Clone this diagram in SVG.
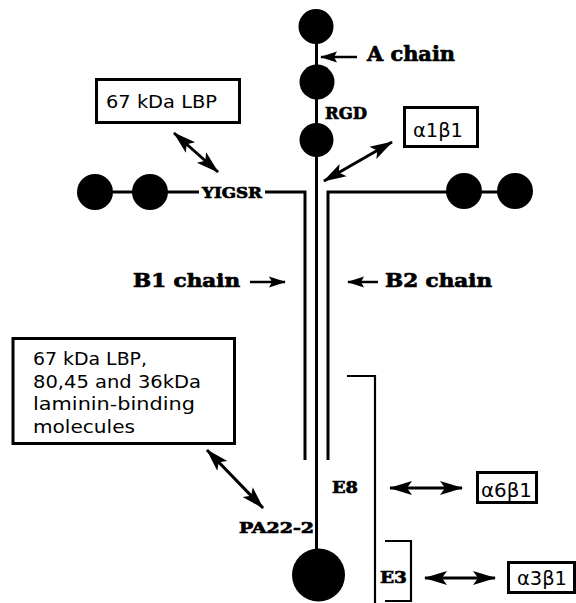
<svg xmlns="http://www.w3.org/2000/svg" width="576" height="603" viewBox="0 0 576 603">
  <style>
    .bg { fill: #ffffff; }
    .chain { stroke: #000; stroke-width: 3; fill: none; }
    .bracket { stroke: #000; stroke-width: 2.2; fill: none; }
    .dom { fill: #000; }
    .box { fill: #fff; stroke: #000; stroke-width: 3; }
    .lbl { font-family: "DejaVu Serif", "Liberation Serif", serif; font-weight: bold; fill: #000; stroke: #000; stroke-width: 0.7; }
    .rec { font-family: "DejaVu Sans", "Liberation Sans", sans-serif; fill: #000; }
    .dbl { stroke: #000; stroke-width: 3; fill: none; marker-start: url(#headD); marker-end: url(#headD); }
    .ptr { stroke: #000; stroke-width: 2.5; fill: none; marker-end: url(#headS); }
  </style>
  <defs>
    <marker id="headD" viewBox="-24 -9 26 18" markerWidth="26" markerHeight="18" refX="0" refY="0" markerUnits="userSpaceOnUse" orient="auto-start-reverse">
      <path d="M1,0 L-22,-7 L-17,0 L-22,7 Z" fill="#000"/>
    </marker>
    <marker id="headS" viewBox="-18 -7 20 14" markerWidth="20" markerHeight="14" refX="0" refY="0" markerUnits="userSpaceOnUse" orient="auto">
      <path d="M1,0 L-16,-5.5 L-13,0 L-16,5.5 Z" fill="#000"/>
    </marker>
  </defs>
  <rect class="bg" width="576" height="603"/>

  <!-- laminin chains (backbone lines) -->
  <g id="chains">
    <line class="chain" x1="316.5" y1="26" x2="316.5" y2="550"/>
    <path class="chain" d="M95,192 H305 V460"/>
    <path class="chain" d="M328,460 V192 H515"/>
  </g>

  <!-- globular domains -->
  <g id="A-chain-domains">
    <circle class="dom" cx="316" cy="26.5" r="17.5"/>
    <circle class="dom" cx="317" cy="82" r="17.5"/>
    <circle class="dom" cx="316.5" cy="140" r="17"/>
    <circle class="dom" cx="318.5" cy="575" r="26.5"/>
  </g>
  <g id="B1-chain-domains">
    <circle class="dom" cx="95" cy="192" r="18"/>
    <circle class="dom" cx="150" cy="192" r="18"/>
  </g>
  <g id="B2-chain-domains">
    <circle class="dom" cx="464" cy="191" r="18"/>
    <circle class="dom" cx="515" cy="191" r="18"/>
  </g>

  <!-- sequence / fragment labels -->
  <g id="YIGSR">
    <rect x="199" y="184" width="66" height="17" fill="#fff"/>
    <text class="lbl" x="202" y="198" font-size="15" textLength="60" lengthAdjust="spacingAndGlyphs">YIGSR</text>
  </g>
  <g id="RGD">
    <text class="lbl" x="325" y="119" font-size="17" textLength="42" lengthAdjust="spacingAndGlyphs">RGD</text>
  </g>
  <g id="A-chain">
    <text class="lbl" x="367" y="61" font-size="21" textLength="88" lengthAdjust="spacingAndGlyphs">A chain</text>
  </g>
  <g id="B1-chain">
    <text class="lbl" x="133" y="287" font-size="18" textLength="107" lengthAdjust="spacingAndGlyphs">B1 chain</text>
  </g>
  <g id="B2-chain">
    <text class="lbl" x="385" y="287" font-size="18" textLength="107" lengthAdjust="spacingAndGlyphs">B2 chain</text>
  </g>
  <g id="PA22-2">
    <text class="lbl" x="239" y="533" font-size="15" textLength="75" lengthAdjust="spacingAndGlyphs">PA22-2</text>
  </g>
  <g id="E8">
    <path class="bracket" d="M347,376 H375 V603"/>
    <text class="lbl" x="332" y="493" font-size="17" textLength="26" lengthAdjust="spacingAndGlyphs">E8</text>
  </g>
  <g id="E3">
    <path class="bracket" d="M385,541 H411 V601 H385"/>
    <text class="lbl" x="380" y="583" font-size="17" textLength="27" lengthAdjust="spacingAndGlyphs">E3</text>
  </g>

  <!-- receptor boxes -->
  <g id="LBP67">
    <rect class="box" x="96.5" y="79.5" width="143" height="43"/>
    <text class="rec" x="106" y="108" font-size="18" textLength="111" lengthAdjust="spacingAndGlyphs">67 kDa LBP</text>
  </g>
  <g id="alpha1beta1">
    <rect class="box" x="404.5" y="107.5" width="73" height="39"/>
    <text class="rec" x="413" y="137" font-size="20" textLength="50" lengthAdjust="spacingAndGlyphs">α1β1</text>
  </g>
  <g id="binding-molecules">
    <rect class="box" x="13" y="338.5" width="221.5" height="105"/>
    <text class="rec" x="33" y="365" font-size="18" textLength="114" lengthAdjust="spacingAndGlyphs">67 kDa LBP,</text>
    <text class="rec" x="33" y="388" font-size="18" textLength="168" lengthAdjust="spacingAndGlyphs">80,45 and 36kDa</text>
    <text class="rec" x="33" y="410" font-size="18" textLength="162" lengthAdjust="spacingAndGlyphs">laminin-binding</text>
    <text class="rec" x="33" y="433" font-size="18" textLength="102" lengthAdjust="spacingAndGlyphs">molecules</text>
  </g>
  <g id="alpha6beta1">
    <rect class="box" x="477.5" y="472.5" width="59" height="30"/>
    <text class="rec" x="481" y="497" font-size="19" textLength="51" lengthAdjust="spacingAndGlyphs">α6β1</text>
  </g>
  <g id="alpha3beta1">
    <rect class="box" x="508.5" y="562.5" width="66" height="30"/>
    <text class="rec" x="517" y="585" font-size="19" textLength="50" lengthAdjust="spacingAndGlyphs">α3β1</text>
  </g>

  <!-- arrows -->
  <g id="connectors">
    <line class="ptr" x1="357" y1="57" x2="321" y2="57"/>
    <line class="ptr" x1="250" y1="282" x2="285" y2="282"/>
    <line class="ptr" x1="378" y1="282" x2="348" y2="282"/>
    <line class="dbl" x1="174" y1="133" x2="218" y2="172"/>
    <line class="dbl" x1="324" y1="181" x2="392" y2="142"/>
    <line class="dbl" x1="207" y1="450" x2="263" y2="508"/>
    <line class="dbl" x1="390" y1="488" x2="462" y2="488"/>
    <line class="dbl" x1="425" y1="578" x2="495" y2="578"/>
  </g>
</svg>
